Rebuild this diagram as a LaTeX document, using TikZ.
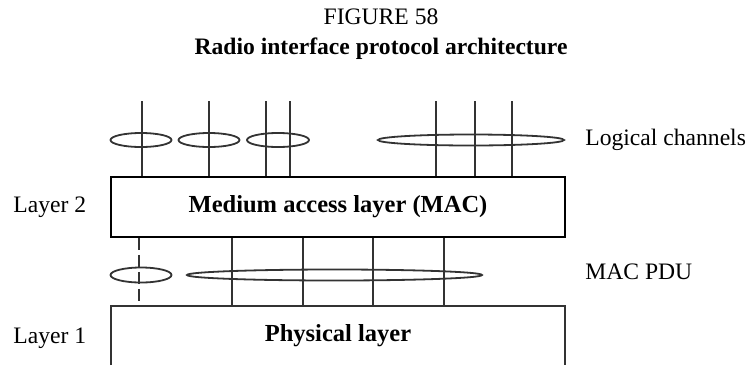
\documentclass[tikz,border=0pt]{standalone}
\usepackage{fontspec}
\setmainfont{Liberation Serif}
\usetikzlibrary{shapes.geometric}

\begin{document}
\begin{tikzpicture}[x=0.5pt,y=-0.5pt,
    layerbox/.style={draw,line width=0.9pt,minimum width=227pt,minimum height=30pt,inner sep=0pt},
    boldtext/.style={font=\fontsize{12.25}{14}\selectfont\bfseries},
    lbl/.style={anchor=west,inner sep=0pt,font=\fontsize{11.8}{14}\selectfont},
    chan/.style={line width=0.9pt,black!80},
    bundle/.style={draw,ellipse,line width=0.9pt,black!80,inner sep=0pt}]
  \useasboundingbox (0,0) rectangle (749,365);
  \clip (0,0) rectangle (749,365);

  % heading
  \node[font=\fontsize{11.8}{14}\selectfont] (fig) at (381,17) {FIGURE 58};
  \node[font=\fontsize{11.8}{14}\selectfont\bfseries] (title) at (381,49) {Radio interface protocol architecture};

  % layer 2
  \node[layerbox,boldtext] (mac) at (338,207) {Medium access layer (MAC)};
  \node[lbl] (l2) at (13,207) {Layer 2};

  % layer 1 (open at the bottom)
  \draw[chan] (111,365) |- (565,306) -- (565,365);
  \coordinate (phytop) at (338,306);
  \node[boldtext] (phy) at (338,336) {Physical layer};
  \node[lbl] (l1) at (13,338) {Layer 1};

  % logical channels
  \foreach \x in {142,209,266,290,436,475,512}
    \draw[chan] (\x,101) -- (\x,101 |- mac.north);
  \node[bundle,minimum width=30.5pt,minimum height=7pt] (lc1) at (141,140) {};
  \node[bundle,minimum width=30.5pt,minimum height=7pt] (lc2) at (209,140) {};
  \node[bundle,minimum width=31pt,minimum height=7pt] (lc3) at (278,140) {};
  \node[bundle,minimum width=93pt,minimum height=5.5pt] (lc4) at (471,140) {};
  \node[lbl] (lch) at (585,140) {Logical channels};

  % MAC PDUs
  \draw[chan,dash pattern=on 6pt off 2.5pt] (139,237 |- mac.south) -- (139,306 |- phytop);
  \foreach \x in {232,303,373,444}
    \draw[chan] (\x,237 |- mac.south) -- (\x,306 |- phytop);
  \node[bundle,minimum width=30.5pt,minimum height=7.5pt] (pdu1) at (141,275) {};
  \node[bundle,minimum width=147.5pt,minimum height=5.5pt] (pdu2) at (334.5,275) {};
  \node[lbl] (pdu) at (585,272) {MAC PDU};
\end{tikzpicture}
\end{document}
